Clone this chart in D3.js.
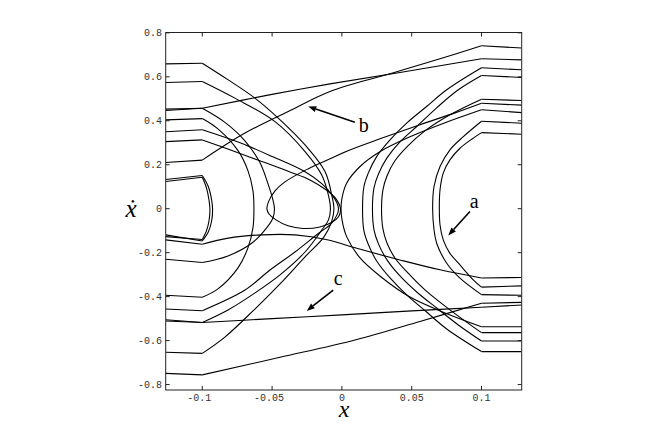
<!DOCTYPE html>
<html><head><meta charset="utf-8">
<script src="https://cdn.jsdelivr.net/npm/d3@7"></script>
<style>body{margin:0;background:#fff}</style></head>
<body><svg id="c" width="664" height="439"></svg>
<script>
// ---- axis settings / ticks ----
const xDomain = [-0.1262, 0.1288];
const yDomain = [-0.8248, 0.8016];
const xTicks = [-0.1, -0.05, 0, 0.05, 0.1];
const xTickLabels = ["-0.1", "-0.05", "0", "0.05", "0.1"];
const yTicks = [-0.8, -0.6, -0.4, -0.2, 0, 0.2, 0.4, 0.6, 0.8];
const yTickLabels = ["-0.8", "-0.6", "-0.4", "-0.2", "0", "0.2", "0.4", "0.6", "0.8"];

// ---- trajectories [x, xdot] ----
const arcL1 = [[-0.1262,0.659],[-0.1,0.662],[-0.0814,0.586],[-0.0623,0.503],[-0.0456,0.412],[-0.0264,0.290],[-0.0121,0.169],[-0.0073,0.063],[-0.0057,-0.001],[-0.0074,-0.060],[-0.0128,-0.128],[-0.0264,-0.219],[-0.0443,-0.342],[-0.0637,-0.465],[-0.0838,-0.584],[-0.1,-0.658],[-0.1262,-0.653]];
const arcL2 = [[-0.1262,0.574],[-0.1,0.579],[-0.0766,0.503],[-0.0479,0.396],[-0.0264,0.260],[-0.0145,0.154],[-0.0097,0.063],[-0.0082,-0.001],[-0.0096,-0.051],[-0.0143,-0.096],[-0.0264,-0.197],[-0.0443,-0.301],[-0.0622,-0.383],[-0.0816,-0.461],[-0.1,-0.518],[-0.1262,-0.511]];
const arcL5 = [[-0.1262,0.350],[-0.1,0.359],[-0.0730,0.300],[-0.0494,0.236],[-0.0264,0.168],[-0.0142,0.113],[-0.0071,0.063],[-0.0035,0.026],[-0.0024,-0.001],[-0.0035,-0.028],[-0.0078,-0.069],[-0.0171,-0.114],[-0.0336,-0.197],[-0.0515,-0.279],[-0.0694,-0.370],[-0.1,-0.464],[-0.1262,-0.456]];
const loopL6 = [[-0.1262,0.305],[-0.1,0.313],[-0.0802,0.268],[-0.0587,0.218],[-0.0372,0.167],[-0.0229,0.131],[-0.0114,0.086],[-0.0042,0.045],[-0.0010,-0.001],[-0.0024,-0.037],[-0.0071,-0.062],[-0.0157,-0.083],[-0.0279,-0.090],[-0.0386,-0.078],[-0.0472,-0.051],[-0.0522,-0.024],[-0.0537,-0.001],[-0.0526,0.031],[-0.0479,0.081],[-0.0408,0.122],[-0.0243,0.181],[-0.0085,0.227],[0.0044,0.264],[0.0273,0.318],[0.0559,0.382],[0.0810,0.436],[0.1,0.480],[0.1288,0.471]];
const arcA1 = [[-0.1262,0.404],[-0.1,0.410],[-0.0888,0.363],[-0.0744,0.264],[-0.0673,0.173],[-0.0637,0.082],[-0.0630,-0.001],[-0.0637,-0.087],[-0.0673,-0.178],[-0.0744,-0.269],[-0.0888,-0.365],[-0.1,-0.403],[-0.1262,-0.394]];
const arcA2 = [[-0.1262,0.447],[-0.1,0.457],[-0.0840,0.394],[-0.0696,0.310],[-0.0589,0.212],[-0.0529,0.113],[-0.0494,0.040],[-0.0483,-0.001],[-0.0494,-0.042],[-0.0539,-0.087],[-0.0644,-0.156],[-0.0816,-0.215],[-0.1,-0.245],[-0.1262,-0.230]];
const lineB1 = [[-0.1262,0.453],[-0.1,0.457],[-0.0501,0.520],[-0.0085,0.568],[0.0416,0.620],[0.1,0.682],[0.1288,0.677]];
const lineB2 = [[-0.1262,0.210],[-0.1,0.221],[-0.0694,0.344],[-0.0384,0.442],[-0.0085,0.533],[0.0345,0.614],[0.0703,0.682],[0.1,0.741],[0.1288,0.731]];
const lineLong = [[-0.1262,-0.142],[-0.1,-0.162],[-0.0814,-0.134],[-0.0575,-0.119],[-0.0336,-0.119],[-0.0097,-0.142],[0.0094,-0.178],[0.0416,-0.233],[0.0703,-0.278],[0.1,-0.315],[0.1288,-0.313]];
const lineC = [[-0.1262,-0.505],[-0.1,-0.518],[-0.05,-0.500],[0,-0.483],[0.05,-0.465],[0.1,-0.448],[0.1288,-0.438]];
const lineBottom = [[-0.1262,-0.749],[-0.1,-0.756],[-0.0443,-0.676],[0.0094,-0.597],[0.0559,-0.513],[0.1,-0.430],[0.1288,-0.426]];
const bracket1 = [[-0.1262,0.133],[-0.1,0.151],[-0.0957,0.101],[-0.0933,0.040],[-0.0926,-0.005],[-0.0933,-0.056],[-0.0957,-0.106],[-0.1,-0.147],[-0.1262,-0.119]];
const bracket2 = [[-0.1262,0.124],[-0.1,0.143],[-0.0970,0.095],[-0.0952,0.040],[-0.0945,-0.005],[-0.0952,-0.056],[-0.0970,-0.101],[-0.1,-0.140],[-0.1262,-0.127]];
const arcR0 = [[0.1288,0.437],[0.1,0.450],[0.0739,0.391],[0.0488,0.327],[0.0272,0.259],[0.0130,0.192],[0.0034,0.116],[0.0001,0.049],[-0.0006,0],[0.0001,-0.051],[0.0034,-0.127],[0.0130,-0.224],[0.0272,-0.306],[0.0488,-0.402],[0.0739,-0.474],[0.1,-0.537],[0.1288,-0.537]];
const arcR1 = [[0.1288,0.632],[0.1,0.641],[0.0751,0.541],[0.0607,0.465],[0.0464,0.389],[0.0345,0.313],[0.0249,0.237],[0.0189,0.162],[0.0158,0.101],[0.0148,0],[0.0158,-0.101],[0.0189,-0.162],[0.0249,-0.238],[0.0345,-0.315],[0.0464,-0.392],[0.0607,-0.470],[0.0751,-0.547],[0.1,-0.650],[0.1288,-0.650]];
const arcR2 = [[0.1288,0.597],[0.1,0.606],[0.0834,0.541],[0.0679,0.459],[0.0536,0.374],[0.0416,0.304],[0.0323,0.231],[0.0262,0.158],[0.0230,0.095],[0.0219,0],[0.0230,-0.096],[0.0262,-0.160],[0.0323,-0.233],[0.0416,-0.306],[0.0536,-0.379],[0.0679,-0.452],[0.0834,-0.529],[0.1,-0.602],[0.1288,-0.602]];
const arcR3 = [[0.1288,0.492],[0.1,0.498],[0.0774,0.427],[0.0595,0.354],[0.0473,0.286],[0.0380,0.218],[0.0323,0.149],[0.0294,0.086],[0.0284,0],[0.0294,-0.092],[0.0323,-0.156],[0.0380,-0.224],[0.0473,-0.292],[0.0595,-0.369],[0.0774,-0.460],[0.1,-0.564],[0.1288,-0.564]];
const arcAin1 = [[0.1288,0.339],[0.1,0.346],[0.0941,0.321],[0.0846,0.275],[0.0774,0.222],[0.0726,0.162],[0.0703,0.086],[0.0698,0],[0.0703,-0.074],[0.0726,-0.142],[0.0774,-0.203],[0.0846,-0.256],[0.0941,-0.324],[0.1,-0.357],[0.1288,-0.351]];
const arcAin2 = [[0.1288,0.389],[0.1,0.398],[0.0870,0.328],[0.0774,0.268],[0.0703,0.192],[0.0660,0.101],[0.0650,0],[0.0660,-0.096],[0.0679,-0.157],[0.0751,-0.248],[0.0846,-0.316],[0.1,-0.391],[0.1288,-0.394]];

const curves = [arcL1, arcL2, arcL5, loopL6, arcA1, arcA2, lineB1, lineB2, lineLong, lineC, lineBottom,
  bracket1, bracket2, arcR0, arcR1, arcR2, arcR3, arcAin1, arcAin2];

// ---- annotations: label, label position, arrow tail, arrow head ----
const annLabels = ["a", "b", "c"];
const annLabelPos = [[0.0948, 0.004], [0.0157, 0.351], [-0.0026, -0.347]];
const annArrowTail = [[0.0917, -0.013], [0.0093, 0.393], [-0.0062, -0.370]];
const annArrowHead = [[0.0762, -0.122], [-0.0241, 0.465], [-0.0252, -0.465]];

// ---- drawing ----
const svg = d3.select("#c");
const x = d3.scaleLinear().domain(xDomain).range([165.7, 521.7]);
const y = d3.scaleLinear().domain(yDomain).range([390, 32.5]);

const plot = svg.append("g");
plot.append("clipPath").attr("id", "clip").append("rect")
  .attr("x", x(xDomain[0])).attr("y", y(yDomain[1]))
  .attr("width", x(xDomain[1]) - x(xDomain[0])).attr("height", y(yDomain[0]) - y(yDomain[1]));

const smooth = d3.line().x(d => x(d[0])).y(d => y(d[1])).curve(d3.curveCatmullRom.alpha(0.5));
const straight = d3.line().x(d => x(d[0])).y(d => y(d[1]));
const isKink = d => Math.abs(Math.abs(d[0]) - 0.1) < 1e-9;

const cg = plot.append("g").attr("clip-path", "url(#clip)")
  .attr("fill", "none").attr("stroke", "#000").attr("stroke-width", 1.1).attr("stroke-linejoin", "round");

curves.forEach(pts => {
  // split at the kinks (x = +-0.1); outer pieces straight, inner pieces smooth
  let piece = [pts[0]];
  const pieces = [];
  for (let i = 1; i < pts.length; i++) {
    piece.push(pts[i]);
    if (isKink(pts[i]) && i < pts.length - 1) { pieces.push(piece); piece = [pts[i]]; }
  }
  pieces.push(piece);
  pieces.forEach(p => {
    const outer = p.every(d => Math.abs(d[0]) >= 0.1 - 1e-9);
    cg.append("path").attr("d", outer || p.length < 3 ? straight(p) : smooth(p));
  });
});

// frame and ticks
const axisCol = "#222";
const fr = plot.append("g").attr("stroke", axisCol).attr("stroke-width", 1).attr("fill", "none");
fr.append("rect").attr("x", x(xDomain[0])).attr("y", y(yDomain[1]))
  .attr("width", x(xDomain[1]) - x(xDomain[0])).attr("height", y(yDomain[0]) - y(yDomain[1]));
const tl = 4;
xTicks.forEach(t => {
  fr.append("line").attr("x1", x(t)).attr("x2", x(t)).attr("y1", y(yDomain[0])).attr("y2", y(yDomain[0]) - tl);
  fr.append("line").attr("x1", x(t)).attr("x2", x(t)).attr("y1", y(yDomain[1])).attr("y2", y(yDomain[1]) + tl);
});
yTicks.forEach(t => {
  fr.append("line").attr("y1", y(t)).attr("y2", y(t)).attr("x1", x(xDomain[0])).attr("x2", x(xDomain[0]) + tl);
  fr.append("line").attr("y1", y(t)).attr("y2", y(t)).attr("x1", x(xDomain[1])).attr("x2", x(xDomain[1]) - tl);
});

const tickFont = "'Liberation Mono', 'DejaVu Sans Mono', monospace";
xTicks.forEach((t, i) => {
  svg.append("text").attr("x", x(t) - (t < 0 ? 3 : 0)).attr("y", 401).attr("text-anchor", "middle")
    .attr("font-family", tickFont).attr("font-size", 10).attr("fill", "#333").text(xTickLabels[i]);
});
yTicks.forEach((t, i) => {
  svg.append("text").attr("x", 162).attr("y", y(t) + 3.5).attr("text-anchor", "end")
    .attr("font-family", tickFont).attr("font-size", 10).attr("fill", "#333").text(yTickLabels[i]);
});

// axis labels
const serif = "'Liberation Serif', 'DejaVu Serif', serif";
svg.append("text").attr("x", 344).attr("y", 417).attr("text-anchor", "middle")
  .attr("font-family", serif).attr("font-style", "italic").attr("font-size", 24).text("x");
svg.append("text").attr("x", 131).attr("y", 217).attr("text-anchor", "middle")
  .attr("font-family", serif).attr("font-style", "italic").attr("font-size", 25).text("x\u0307");

// annotations
const ag = svg.append("g");
annLabels.forEach((lab, i) => {
  ag.append("text").attr("x", x(annLabelPos[i][0])).attr("y", y(annLabelPos[i][1]))
    .attr("text-anchor", "middle").attr("font-family", serif).attr("font-size", 20).text(lab);
  const t = annArrowTail[i], h = annArrowHead[i];
  const tx = x(t[0]), ty = y(t[1]), hx = x(h[0]), hy = y(h[1]);
  const ang = Math.atan2(hy - ty, hx - tx);
  const L = 8, W = 3;
  const bx = hx - L * Math.cos(ang), by = hy - L * Math.sin(ang);
  ag.append("line").attr("x1", tx).attr("y1", ty).attr("x2", bx).attr("y2", by)
    .attr("stroke", "#000").attr("stroke-width", 1.6);
  ag.append("path").attr("d", `M${hx},${hy}L${bx - W * Math.sin(ang)},${by + W * Math.cos(ang)}L${bx + W * Math.sin(ang)},${by - W * Math.cos(ang)}Z`)
    .attr("fill", "#000");
});
</script></body></html>
